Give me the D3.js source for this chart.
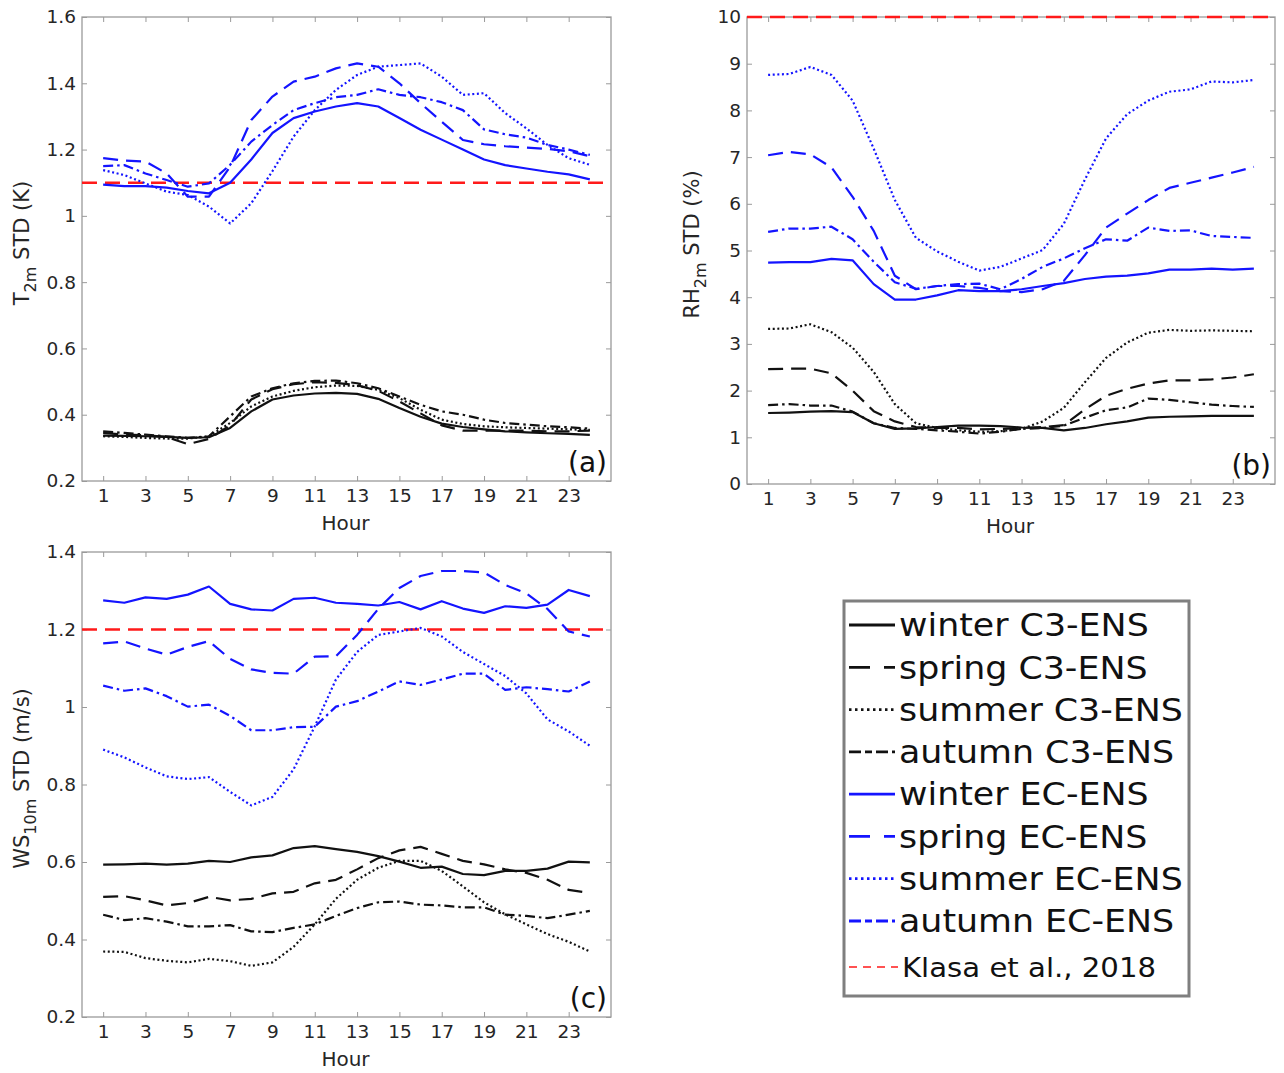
<!DOCTYPE html>
<html>
<head>
<meta charset="utf-8">
<script src="https://cdn.jsdelivr.net/npm/d3@7"></script>
<style>
  body { margin: 0; background: #fff; }
  svg { display: block; font-family: "DejaVu Sans", sans-serif; }
</style>
</head>
<body>
<svg id="chart" width="1284" height="1073"></svg>
<script>
// hours of the day
const hours = [1, 2, 3, 4, 5, 6, 7, 8, 9, 10, 11, 12, 13, 14, 15, 16, 17, 18, 19, 20, 21, 22, 23, 24];
const hourTicks = [1, 3, 5, 7, 9, 11, 13, 15, 17, 19, 21, 23];

// (a) T2m STD (K)
const tWinterC3 = [0.337, 0.336, 0.335, 0.333, 0.330, 0.332, 0.360, 0.410, 0.446, 0.458, 0.464, 0.466, 0.463, 0.448, 0.420, 0.394, 0.373, 0.363, 0.356, 0.350, 0.347, 0.344, 0.342, 0.339];
const tSpringC3 = [0.345, 0.340, 0.338, 0.333, 0.311, 0.327, 0.368, 0.446, 0.477, 0.492, 0.498, 0.496, 0.489, 0.472, 0.440, 0.404, 0.368, 0.352, 0.352, 0.352, 0.352, 0.350, 0.350, 0.352];
const tSummerC3 = [0.335, 0.333, 0.330, 0.328, 0.328, 0.335, 0.375, 0.425, 0.455, 0.472, 0.483, 0.488, 0.487, 0.475, 0.450, 0.415, 0.385, 0.372, 0.365, 0.362, 0.360, 0.358, 0.356, 0.354];
const tAutumnC3 = [0.350, 0.345, 0.340, 0.335, 0.330, 0.335, 0.395, 0.455, 0.480, 0.495, 0.502, 0.503, 0.495, 0.480, 0.455, 0.430, 0.410, 0.400, 0.385, 0.375, 0.370, 0.365, 0.362, 0.358];
const tWinterEC = [1.094, 1.090, 1.090, 1.085, 1.075, 1.068, 1.100, 1.170, 1.250, 1.295, 1.315, 1.330, 1.340, 1.330, 1.295, 1.260, 1.230, 1.200, 1.170, 1.153, 1.143, 1.133, 1.125, 1.110];
const tSpringEC = [1.174, 1.167, 1.164, 1.128, 1.058, 1.058, 1.148, 1.289, 1.360, 1.405, 1.420, 1.445, 1.460, 1.450, 1.400, 1.340, 1.284, 1.229, 1.216, 1.210, 1.206, 1.202, 1.195, 1.180];
const tSummerEC = [1.138, 1.123, 1.098, 1.073, 1.063, 1.028, 0.977, 1.038, 1.135, 1.239, 1.319, 1.380, 1.425, 1.450, 1.455, 1.460, 1.420, 1.365, 1.370, 1.310, 1.264, 1.214, 1.174, 1.154];
const tAutumnEC = [1.150, 1.153, 1.128, 1.108, 1.088, 1.098, 1.154, 1.224, 1.274, 1.319, 1.340, 1.358, 1.365, 1.382, 1.365, 1.358, 1.343, 1.319, 1.261, 1.246, 1.236, 1.214, 1.200, 1.184];
const tKlasa = 1.1;

// (b) RH2m STD (%)
const rhWinterC3 = [1.52, 1.53, 1.55, 1.56, 1.54, 1.30, 1.18, 1.19, 1.22, 1.25, 1.25, 1.24, 1.21, 1.20, 1.15, 1.20, 1.28, 1.34, 1.42, 1.44, 1.45, 1.46, 1.46, 1.46];
const rhSpringC3 = [2.46, 2.47, 2.47, 2.37, 2.00, 1.56, 1.34, 1.22, 1.20, 1.20, 1.17, 1.18, 1.20, 1.22, 1.26, 1.60, 1.89, 2.04, 2.15, 2.22, 2.22, 2.24, 2.28, 2.35];
const rhSummerC3 = [3.32, 3.33, 3.42, 3.25, 2.92, 2.40, 1.71, 1.30, 1.20, 1.15, 1.12, 1.13, 1.18, 1.34, 1.63, 2.18, 2.70, 3.03, 3.24, 3.30, 3.28, 3.29, 3.28, 3.27];
const rhAutumnC3 = [1.69, 1.71, 1.68, 1.68, 1.55, 1.30, 1.20, 1.18, 1.15, 1.12, 1.08, 1.12, 1.18, 1.20, 1.25, 1.42, 1.58, 1.64, 1.83, 1.80, 1.75, 1.70, 1.67, 1.65];
const rhWinterEC = [4.74, 4.75, 4.75, 4.82, 4.79, 4.28, 3.95, 3.95, 4.04, 4.15, 4.13, 4.13, 4.17, 4.24, 4.30, 4.39, 4.44, 4.46, 4.51, 4.59, 4.59, 4.61, 4.59, 4.61];
const rhSpringEC = [7.04, 7.11, 7.06, 6.78, 6.15, 5.42, 4.46, 4.17, 4.24, 4.24, 4.20, 4.13, 4.11, 4.17, 4.35, 4.90, 5.49, 5.79, 6.08, 6.34, 6.45, 6.56, 6.67, 6.79];
const rhSummerEC = [8.76, 8.78, 8.93, 8.76, 8.21, 7.18, 6.08, 5.27, 4.98, 4.76, 4.57, 4.65, 4.83, 5.01, 5.57, 6.52, 7.40, 7.92, 8.21, 8.40, 8.45, 8.62, 8.60, 8.65];
const rhAutumnEC = [5.40, 5.47, 5.47, 5.51, 5.24, 4.76, 4.32, 4.18, 4.24, 4.28, 4.29, 4.17, 4.39, 4.65, 4.83, 5.05, 5.24, 5.21, 5.49, 5.42, 5.43, 5.31, 5.29, 5.27];
const rhKlasa = 10;

// (c) WS10m STD (m/s)
const wsWinterC3 = [0.593, 0.594, 0.596, 0.593, 0.596, 0.603, 0.600, 0.612, 0.617, 0.636, 0.641, 0.633, 0.626, 0.615, 0.601, 0.585, 0.588, 0.569, 0.566, 0.577, 0.577, 0.583, 0.601, 0.599];
const wsSpringC3 = [0.510, 0.512, 0.501, 0.488, 0.494, 0.510, 0.501, 0.505, 0.519, 0.523, 0.545, 0.554, 0.581, 0.610, 0.630, 0.639, 0.621, 0.603, 0.594, 0.581, 0.572, 0.554, 0.528, 0.520];
const wsSummerC3 = [0.369, 0.368, 0.352, 0.345, 0.341, 0.350, 0.344, 0.332, 0.341, 0.381, 0.439, 0.505, 0.554, 0.585, 0.603, 0.603, 0.577, 0.537, 0.496, 0.465, 0.439, 0.414, 0.394, 0.369];
const wsAutumnC3 = [0.464, 0.450, 0.455, 0.446, 0.434, 0.434, 0.437, 0.421, 0.419, 0.430, 0.439, 0.461, 0.481, 0.496, 0.498, 0.490, 0.488, 0.483, 0.483, 0.464, 0.461, 0.455, 0.464, 0.474];
const wsWinterEC = [1.275, 1.269, 1.283, 1.279, 1.290, 1.311, 1.266, 1.252, 1.249, 1.279, 1.282, 1.269, 1.266, 1.262, 1.271, 1.252, 1.273, 1.254, 1.243, 1.260, 1.256, 1.264, 1.302, 1.286];
const wsSpringEC = [1.164, 1.169, 1.151, 1.135, 1.155, 1.170, 1.124, 1.097, 1.088, 1.086, 1.130, 1.131, 1.186, 1.253, 1.307, 1.338, 1.351, 1.351, 1.347, 1.315, 1.293, 1.253, 1.195, 1.182];
const wsSummerEC = [0.890, 0.870, 0.844, 0.821, 0.814, 0.819, 0.781, 0.746, 0.768, 0.839, 0.950, 1.071, 1.142, 1.186, 1.195, 1.204, 1.182, 1.142, 1.111, 1.080, 1.035, 0.968, 0.937, 0.900];
const wsAutumnEC = [1.055, 1.042, 1.048, 1.028, 1.001, 1.006, 0.977, 0.940, 0.940, 0.948, 0.949, 1.001, 1.015, 1.040, 1.066, 1.057, 1.071, 1.086, 1.086, 1.044, 1.051, 1.046, 1.040, 1.066];
const wsKlasa = 1.2;

const legendLabels = ["winter C3-ENS", "spring C3-ENS", "summer C3-ENS", "autumn C3-ENS",
    "winter EC-ENS", "spring EC-ENS", "summer EC-ENS", "autumn EC-ENS", "Klasa et al., 2018"];

/* line styles */
const BLUE = "#1414ff";
const BLACK = "#111";
const RED = "#ff1a1a";
const dashes = {
    winter: null,
    spring: "15,8",
    summer: "2,2.6",
    autumn: "10,4,2.5,4"
};
const legendDashes = {
    winter: null,
    spring: "21,14",
    summer: "2.5,3.5",
    autumn: "12,4,7,4"
};
const seasons = ["winter", "spring", "summer", "autumn"];

const svg = d3.select("#chart");

function fmt(v) {
    return d3.format("~g")(+v.toFixed(2));
}

function drawPanel(p) {
    const x = d3.scaleLinear().domain([0, 25]).range([p.left, p.right]);
    const y = d3.scaleLinear().domain(p.yDomain).range([p.bottom, p.top]);
    const g = svg.append("g");

    const grey = "#9a9a9a";

    // box
    g.append("rect")
        .attr("x", p.left).attr("y", p.top)
        .attr("width", p.right - p.left).attr("height", p.bottom - p.top)
        .attr("fill", "none").attr("stroke", grey).attr("stroke-width", 1.3);

    const bottom = g.append("g")
        .attr("transform", `translate(0,${p.bottom})`)
        .call(d3.axisBottom(x).tickValues(hourTicks).tickSizeInner(-5).tickSizeOuter(0).tickPadding(8));
    const top = g.append("g")
        .attr("transform", `translate(0,${p.top})`)
        .call(d3.axisTop(x).tickValues(hourTicks).tickSizeInner(-5).tickSizeOuter(0).tickFormat(""));
    const left = g.append("g")
        .attr("transform", `translate(${p.left},0)`)
        .call(d3.axisLeft(y).tickValues(p.yTicks).tickSizeInner(-5).tickSizeOuter(0).tickPadding(6).tickFormat(fmt));
    const right = g.append("g")
        .attr("transform", `translate(${p.right},0)`)
        .call(d3.axisRight(y).tickValues(p.yTicks).tickSizeInner(-5).tickSizeOuter(0).tickFormat(""));

    [bottom, top, left, right].forEach((a) => {
        a.select(".domain").remove();
        a.selectAll("line").attr("stroke", grey);
        a.attr("font-family", null).attr("font-size", null);
        a.selectAll("text").attr("fill", "#262626").style("font-size", "18.5px");
    });

    // reference line
    g.append("line")
        .attr("x1", p.left).attr("x2", p.right)
        .attr("y1", y(p.klasa)).attr("y2", y(p.klasa))
        .attr("stroke", RED).attr("stroke-width", 2.6)
        .attr("stroke-dasharray", "15,8");

    const line = d3.line()
        .x((d, i) => x(hours[i]))
        .y((d) => y(d));

    const drawSet = (list, color) => {
        list.forEach((vals, i) => {
            g.append("path")
                .datum(vals)
                .attr("fill", "none")
                .attr("stroke", color)
                .attr("stroke-width", 2.2)
                .attr("stroke-linejoin", "round")
                .attr("stroke-dasharray", dashes[seasons[i]])
                .attr("d", line);
        });
    };
    drawSet(p.c3, BLACK);
    drawSet(p.ec, BLUE);

    // x title
    g.append("text")
        .attr("x", (p.left + p.right) / 2 - 1)
        .attr("y", p.bottom + 49)
        .attr("text-anchor", "middle")
        .attr("fill", "#262626")
        .style("font-size", "20px")
        .text("Hour");

    // y title with subscript
    const yt = g.append("text")
        .attr("transform", `translate(${p.yTitleX},${(p.top + p.bottom) / 2 - 6}) rotate(-90)`)
        .attr("text-anchor", "middle")
        .attr("fill", "#262626")
        .style("font-size", "21px");
    yt.append("tspan").text(p.yTitle[0]);
    yt.append("tspan").attr("dy", 7).style("font-size", "16px").text(p.yTitle[1]);
    yt.append("tspan").attr("dy", -7).text(p.yTitle[2]);

    // panel letter
    g.append("text")
        .attr("x", p.right - 4)
        .attr("y", p.bottom - 9)
        .attr("text-anchor", "end")
        .attr("fill", "#111")
        .style("font-size", "28px")
        .text(p.letter);
}

drawPanel({
    left: 82, right: 611, top: 17, bottom: 481,
    yDomain: [0.2, 1.6], yTicks: [0.2, 0.4, 0.6, 0.8, 1.0, 1.2, 1.4, 1.6],
    c3: [tWinterC3, tSpringC3, tSummerC3, tAutumnC3],
    ec: [tWinterEC, tSpringEC, tSummerEC, tAutumnEC],
    klasa: tKlasa,
    yTitle: ["T", "2m", " STD (K)"], yTitleX: 29,
    letter: "(a)"
});

drawPanel({
    left: 747, right: 1275, top: 17, bottom: 484,
    yDomain: [0, 10], yTicks: [0, 1, 2, 3, 4, 5, 6, 7, 8, 9, 10],
    c3: [rhWinterC3, rhSpringC3, rhSummerC3, rhAutumnC3],
    ec: [rhWinterEC, rhSpringEC, rhSummerEC, rhAutumnEC],
    klasa: rhKlasa,
    yTitle: ["RH", "2m", " STD (%)"], yTitleX: 699,
    letter: "(b)"
});

drawPanel({
    left: 82, right: 611, top: 552, bottom: 1017,
    yDomain: [0.2, 1.4], yTicks: [0.2, 0.4, 0.6, 0.8, 1.0, 1.2, 1.4],
    c3: [wsWinterC3, wsSpringC3, wsSummerC3, wsAutumnC3],
    ec: [wsWinterEC, wsSpringEC, wsSummerEC, wsAutumnEC],
    klasa: wsKlasa,
    yTitle: ["WS", "10m", " STD (m/s)"], yTitleX: 29,
    letter: "(c)"
});

/* legend */
const lg = svg.append("g");
lg.append("rect")
    .attr("x", 844).attr("y", 601)
    .attr("width", 345).attr("height", 395)
    .attr("fill", "#fff").attr("stroke", "#7f7f7f").attr("stroke-width", 3);

const rowY = d3.scalePoint().domain(legendLabels.slice(0, 8)).range([625, 921]);

legendLabels.forEach((label, i) => {
    const isRef = i === 8;
    const cy = isRef ? 967 : rowY(label);
    const color = isRef ? RED : (i < 4 ? BLACK : BLUE);
    const dash = isRef ? "8,6" : legendDashes[seasons[i % 4]];
    lg.append("line")
        .attr("x1", 849).attr("x2", isRef ? 898 : 895)
        .attr("y1", cy).attr("y2", cy)
        .attr("stroke", color)
        .attr("stroke-width", isRef ? 1.6 : 2.8)
        .attr("stroke-dasharray", dash);
    const tx = isRef ? 902 : 899;
    lg.append("text")
        .attr("transform", `translate(${tx},${cy}) scale(${isRef ? 1.08 : 1.105},1)`)
        .attr("dy", "0.36em")
        .attr("fill", "#111")
        .style("font-size", isRef ? "27px" : "31.5px")
        .text(label);
});
</script>
</body>
</html>
